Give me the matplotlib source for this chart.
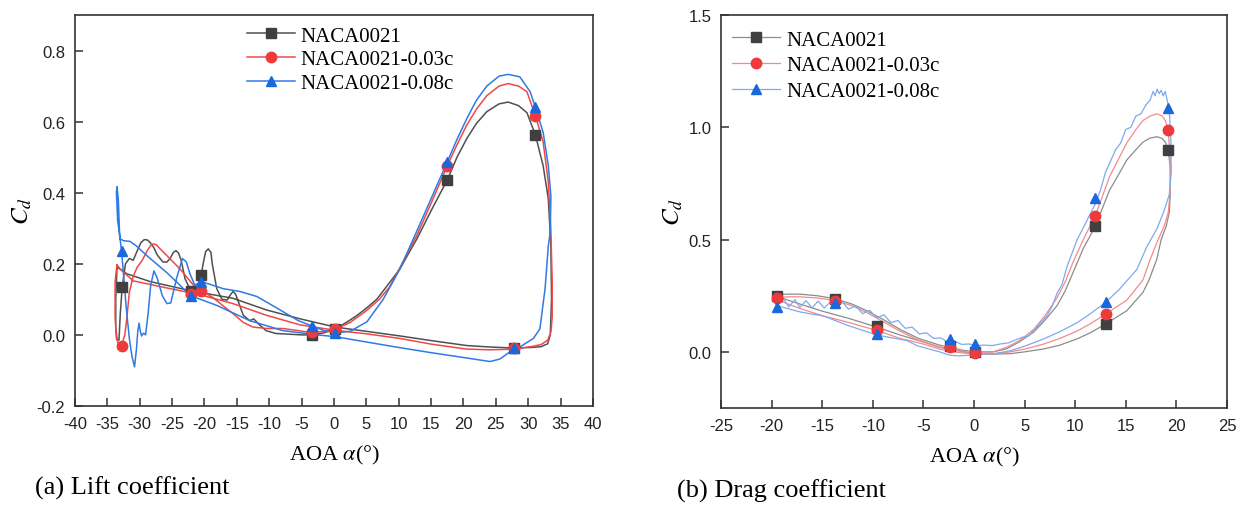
import matplotlib
matplotlib.use("Agg")
import matplotlib.pyplot as plt

plt.rcParams['font.family'] = ['Liberation Serif', 'DejaVu Serif']
plt.rcParams['mathtext.fontset'] = 'stix'
plt.rcParams['axes.unicode_minus'] = False

labels = ['NACA0021', 'NACA0021-0.03c', 'NACA0021-0.08c']

# ---- lift loops (a) ----
lift_aoa_0 = [-33.5, -33.7, -33.7, -33.5, -33.2, -33.0, -32.7, -32.2, -31.6, -31.0, -30.3, -29.8, -29.3,
              -28.8, -28.4, -27.8, -27.3, -26.4, -25.8, -25.3, -24.8, -24.4, -24.0, -23.6, -23.0, -22.1,
              -21.0, -20.5, -20.1, -19.8, -19.4, -19.0, -18.8, -18.4, -18.1, -17.3, -16.5, -15.9, -15.6,
              -15.2, -14.9, -14.0, -13.0, -12.4, -11.6, -10.5, -9.0, -7.0, -5.0, -3.4, -1.5, 0.2, 2.0,
              3.5, 5.0, 6.6, 8.5, 10.2, 11.7, 12.8, 15.3, 17.5, 19.0, 20.5, 22.0, 23.6, 25.5, 26.9, 28.5,
              29.8, 31.1, 32.3, 33.1, 33.5, 33.6, 33.4, 33.0, 32.0, 30.8, 27.8, 24.0, 20.5, 15.0, 10.2,
              5.0, 0.2, -5.2, -10.4, -15.6, -22.1, -28.4, -32.0, -33.0, -33.5]
lift_cl_0 = [0.19, 0.10, 0.02, -0.012, -0.015, 0.06, 0.135, 0.2, 0.215, 0.21, 0.24, 0.26, 0.268,
             0.267, 0.26, 0.245, 0.225, 0.205, 0.205, 0.215, 0.232, 0.237, 0.23, 0.21, 0.158, 0.124,
             0.14, 0.17, 0.21, 0.235, 0.242, 0.232, 0.2, 0.16, 0.13, 0.1, 0.098, 0.115, 0.122,
             0.115, 0.1, 0.055, 0.04, 0.045, 0.03, 0.012, 0.004, 0.002, 0.0, 0.0, 0.006, 0.017, 0.036,
             0.054, 0.075, 0.10, 0.145, 0.186, 0.235, 0.27, 0.36, 0.436, 0.5, 0.552, 0.595, 0.628, 0.65,
             0.655, 0.645, 0.625, 0.563, 0.476, 0.383, 0.25, 0.1, 0.0, -0.025, -0.033, -0.035, -0.037,
             -0.034, -0.03, -0.016, -0.003, 0.01, 0.022, 0.045, 0.07, 0.103, 0.124, 0.15, 0.172, 0.185, 0.19]

lift_aoa_1 = [-33.5, -33.8, -33.8, -33.6, -33.2, -32.8, -32.3, -32.0, -31.6, -31.0, -30.4, -29.6, -28.9,
              -28.3, -27.9, -27.4, -27.0, -25.8, -23.8, -21.7, -20.5, -18.7, -17.0, -15.6, -14.0, -12.5,
              -10.4, -7.9, -5.5, -3.4, -1.5, 0.2, 2.5, 5.0, 7.0, 8.6, 10.5, 12.8, 15.0, 17.5, 19.0, 20.5,
              22.0, 23.6, 25.5, 26.9, 28.5, 29.8, 31.1, 32.3, 33.1, 33.5, 33.7, 33.7, 33.5, 33.0, 32.0,
              30.8, 27.8, 24.0, 20.5, 15.0, 10.2, 5.0, 0.2, -5.2, -10.4, -15.6, -20.7, -25.8, -31.0,
              -33.0, -33.5]
lift_cl_1 = [0.197, 0.15, 0.05, -0.01, -0.03, -0.03, 0.0, 0.045, 0.12, 0.165, 0.19, 0.21, 0.235,
             0.252, 0.256, 0.253, 0.245, 0.223, 0.186, 0.14, 0.125, 0.105, 0.08, 0.06, 0.035, 0.022,
             0.018, 0.018, 0.012, 0.006, 0.01, 0.016, 0.035, 0.068, 0.1, 0.135, 0.2, 0.28, 0.37, 0.476,
             0.535, 0.59, 0.635, 0.673, 0.7, 0.707, 0.7, 0.684, 0.617, 0.543, 0.43, 0.29, 0.15, 0.05,
             0.008, -0.015, -0.027, -0.032, -0.04, -0.042, -0.04, -0.026, -0.01, 0.003, 0.013, 0.028,
             0.055, 0.088, 0.113, 0.132, 0.152, 0.185, 0.197]

lift_aoa_2 = [-33.0, -33.4, -33.6, -33.5, -33.3, -33.1, -32.8, -32.5, -32.1, -31.6, -31.2, -30.8, -30.5,
              -30.3, -30.1, -29.9, -29.7, -29.4, -29.1, -28.7, -28.3, -27.8, -27.3, -26.5, -25.8, -25.2,
              -24.3, -23.4, -22.8, -22.2, -21.5, -20.5, -19.1, -17.1, -14.5, -11.9, -8.3, -5.5, -3.4,
              -1.5, 0.2, 2.5, 5.1, 7.6, 10.2, 12.5, 14.8, 17.5, 19.0, 20.5, 22.0, 23.6, 25.5, 26.9, 28.7,
              30.3, 31.1, 32.3, 33.1, 33.5, 33.4, 33.1, 32.6, 31.8, 30.8, 28.7, 27.8, 25.6, 24.1, 20.5,
              15.0, 10.2, 5.0, 0.2, -2.6, -7.9, -13.0, -18.1, -22.1, -25.8, -28.9, -30.5, -31.5, -32.5,
              -33.0]
lift_cl_2 = [0.27, 0.32, 0.40, 0.417, 0.38, 0.28, 0.235, 0.17, 0.08, -0.01, -0.06, -0.09, -0.04,
             0.01, 0.033, 0.01, -0.003, 0.005, 0.0, 0.06, 0.14, 0.18, 0.16, 0.11, 0.088, 0.09,
             0.16, 0.215, 0.205, 0.17, 0.14, 0.15, 0.142, 0.13, 0.122, 0.108, 0.07, 0.04, 0.025,
             0.012, 0.006, 0.01, 0.037, 0.1, 0.186, 0.28, 0.375, 0.487, 0.55, 0.608, 0.66, 0.70, 0.728,
             0.733, 0.726, 0.684, 0.64, 0.57, 0.476, 0.39, 0.29, 0.25, 0.13, 0.017, -0.01, -0.034,
             -0.04, -0.068, -0.075, -0.065, -0.05, -0.036, -0.02, -0.005, 0.0, 0.012, 0.04, 0.083, 0.11,
             0.175, 0.223, 0.25, 0.263, 0.265, 0.27]

lift_mk_aoa = [-32.7, -22.1, -20.5, -3.4, 0.2, 17.5, 27.8, 31.1]
lift_mk_0 = [0.135, 0.124, 0.169, 0.0, 0.017, 0.436, -0.037, 0.563]
lift_mk_1 = [-0.03, 0.115, 0.124, 0.007, 0.016, 0.476, -0.038, 0.617]
lift_mk_2 = [0.235, 0.11, 0.15, 0.025, 0.006, 0.487, -0.037, 0.64]

# ---- drag loops (b) ----
drag_aoa_0 = [-19.6, -18.5, -17.2, -15.5, -13.7, -12.0, -10.6, -9.0, -7.3, -5.5, -3.4, -2.4, -1.2, 0.1,
              1.9, 3.2, 4.5, 5.9, 7.0, 8.2, 9.0, 9.8, 10.8, 12.0, 13.4, 14.3, 15.1, 16.0, 16.7, 17.4,
              18.1, 18.6, 18.9, 19.2, 19.4, 19.4, 19.3, 19.0, 18.5, 18.05, 17.3, 16.7, 15.1, 13.0, 11.5,
              10.2, 8.5, 6.9, 5.0, 3.6, 2.0, 0.3, -1.7, -3.4, -5.0, -7.3, -9.6, -12.3, -14.9, -17.0,
              -18.5, -19.6]
drag_cd_0 = [0.252, 0.257, 0.257, 0.25, 0.236, 0.212, 0.183, 0.145, 0.1, 0.06, 0.03, 0.02, 0.008, 0.0,
             0.0, 0.013, 0.045, 0.088, 0.14, 0.205, 0.27, 0.354, 0.46, 0.56, 0.72, 0.79, 0.854, 0.9,
             0.934, 0.952, 0.958, 0.95, 0.934, 0.90, 0.82, 0.7, 0.62, 0.56, 0.5, 0.41, 0.32, 0.265,
             0.183, 0.124, 0.085, 0.058, 0.03, 0.013, 0.0, -0.008, -0.01, -0.01, 0.005, 0.02, 0.044,
             0.075, 0.11, 0.148, 0.18, 0.21, 0.232, 0.252]

drag_aoa_1 = [-19.6, -18.5, -17.2, -15.5, -13.7, -12.0, -10.6, -9.0, -7.3, -5.5, -3.4, -2.4, -1.2, 0.1,
              1.9, 3.2, 4.5, 5.9, 7.0, 8.2, 9.0, 9.8, 10.8, 12.0, 13.4, 14.3, 15.1, 16.0, 16.7, 17.4,
              18.1, 18.6, 18.9, 19.2, 19.4, 19.4, 19.2, 18.8, 18.2, 17.4, 16.7, 15.1, 13.0, 11.5, 10.2,
              8.5, 6.9, 5.0, 3.6, 2.0, 0.3, -2.0, -3.4, -5.0, -7.3, -9.6, -12.3, -14.9, -17.0, -18.5,
              -19.6]
drag_cd_1 = [0.24, 0.245, 0.245, 0.24, 0.228, 0.205, 0.175, 0.135, 0.092, 0.052, 0.022, 0.014, 0.003,
             -0.005, 0.0, 0.02, 0.05, 0.1, 0.16, 0.24, 0.31, 0.4, 0.5, 0.607, 0.78, 0.86, 0.93, 0.99,
             1.03, 1.05, 1.06, 1.05, 1.03, 0.99, 0.84, 0.72, 0.62, 0.56, 0.5, 0.41, 0.32, 0.23, 0.168,
             0.125, 0.093, 0.06, 0.035, 0.012, 0.0, -0.008, -0.012, 0.0, 0.012, 0.035, 0.06, 0.095,
             0.13, 0.16, 0.19, 0.215, 0.235]

drag_aoa_2 = [-19.6, -19.2, -18.8, -18.3, -17.7, -17.2, -16.6, -16.0, -15.4, -14.8, -14.2, -13.6, -13.0,
              -12.4, -11.7, -11.0, -10.3, -9.6, -8.9, -8.2, -7.5, -6.8, -6.1, -5.4, -4.7, -4.0, -3.3,
              -2.6, -1.9, -1.2, -0.5, 0.2, 1.0, 1.8, 2.6, 3.4, 4.2, 4.8, 5.4, 6.0, 6.6, 7.2, 7.7, 8.2,
              8.7, 9.2, 9.7, 10.2, 11.0, 12.0, 12.5, 13.0, 13.5, 14.0, 14.5, 15.0, 15.5, 16.0, 16.5,
              17.0, 17.4, 17.7, 17.9, 18.1, 18.3, 18.5, 18.7, 18.9, 19.1, 19.3, 19.45, 19.5, 19.3, 18.8,
              18.1, 17.1, 16.1, 14.4, 13.0, 11.5, 10.2, 8.5, 6.9, 5.0, 3.6, 2.0, 0.3, -1.5, -2.4, -3.4,
              -5.6, -6.6, -9.6, -12.3, -14.9, -16.0, -17.2, -18.2, -19.0, -19.6]
drag_cd_2 = [0.215, 0.225, 0.235, 0.2, 0.232, 0.198, 0.228, 0.196, 0.226, 0.195, 0.222, 0.2, 0.222,
             0.19, 0.205, 0.17, 0.185, 0.15, 0.165, 0.13, 0.14, 0.105, 0.11, 0.08, 0.085, 0.06, 0.062,
             0.045, 0.047, 0.033, 0.035, 0.028, 0.03, 0.028, 0.035, 0.04, 0.055, 0.065, 0.07, 0.1, 0.13,
             0.16, 0.2, 0.26, 0.3, 0.38, 0.44, 0.5, 0.57, 0.66, 0.72, 0.8, 0.85, 0.9, 0.93, 0.99, 1.0,
             1.05, 1.06, 1.1, 1.12, 1.16, 1.14, 1.17, 1.15, 1.165, 1.14, 1.16, 1.12, 1.08, 0.95, 0.8,
             0.7, 0.63, 0.55, 0.47, 0.367, 0.28, 0.22, 0.17, 0.13, 0.09, 0.058, 0.025, 0.005, -0.008,
             -0.013, -0.018, -0.015, 0.0, 0.027, 0.05, 0.075, 0.115, 0.16, 0.168, 0.178, 0.19, 0.2,
             0.21]

drag_mk_aoa = [-19.5, -13.7, -9.6, -2.4, 0.1, 12.0, 19.2, 13.0]
drag_mk_0 = [0.25, 0.235, 0.113, 0.028, 0.0, 0.56, 0.90, 0.124]
drag_mk_1 = [0.238, 0.228, 0.099, 0.02, -0.005, 0.607, 0.99, 0.168]
drag_mk_2 = [0.2, 0.217, 0.08, 0.057, 0.035, 0.686, 1.085, 0.223]

line_dark = ['#505050', '#f04848', '#2f7ae5']
line_light = ['#8c8c8c', '#f58a8a', '#7eaaf0']
mk_colors = ['#404040', '#ee3a3a', '#1a68dc']
mk_shapes = ['s', 'o', '^']

fig = plt.figure(figsize=(12.45, 5.06), dpi=100)
ax1 = fig.add_axes([0.0602, 0.1957, 0.4161, 0.7727])
ax2 = fig.add_axes([0.5791, 0.1917, 0.4064, 0.7767])

lift_aoa = [lift_aoa_0, lift_aoa_1, lift_aoa_2]
lift_cl = [lift_cl_0, lift_cl_1, lift_cl_2]
lift_mk = [lift_mk_0, lift_mk_1, lift_mk_2]
for i in range(3):
    ax1.plot(lift_aoa[i], lift_cl[i], color=line_dark[i], lw=1.1)
for i in range(3):
    ax1.plot(lift_mk_aoa, lift_mk[i], ls='none', marker=mk_shapes[i], color=mk_colors[i], ms=7.5)
    ax1.plot([], [], color=line_dark[i], lw=1.1, marker=mk_shapes[i], mfc=mk_colors[i],
             mec=mk_colors[i], ms=7.5, label=labels[i])

drag_aoa = [drag_aoa_0, drag_aoa_1, drag_aoa_2]
drag_cd = [drag_cd_0, drag_cd_1, drag_cd_2]
drag_mk = [drag_mk_0, drag_mk_1, drag_mk_2]
for i in range(3):
    ax2.plot(drag_aoa[i], drag_cd[i], color=line_light[i], lw=0.9)
for i in range(3):
    ax2.plot(drag_mk_aoa, drag_mk[i], ls='none', marker=mk_shapes[i], color=mk_colors[i], ms=7.5)
    ax2.plot([], [], color=line_light[i], lw=0.9, marker=mk_shapes[i], mfc=mk_colors[i],
             mec=mk_colors[i], ms=7.5, label=labels[i])

ax1.set_xlim(-40, 40)
ax1.set_ylim(-0.2, 0.9)
ax1.set_xticks(range(-40, 41, 5))
ax1.set_yticks([-0.2, 0.0, 0.2, 0.4, 0.6, 0.8])
ax1.set_yticklabels(['-0.2', '0.0', '0.2', '0.4', '0.6', '0.8'])

ax2.set_xlim(-25, 25)
ax2.set_ylim(-0.25, 1.5)
ax2.set_xticks(range(-25, 26, 5))
ax2.set_yticks([0.0, 0.5, 1.0, 1.5])
ax2.set_yticklabels(['0.0', '0.5', '1.0', '1.5'])

for ax in (ax1, ax2):
    for sp in ax.spines.values():
        sp.set_color('#333333')
        sp.set_linewidth(1.2)
    ax.tick_params(direction='in', length=6, width=1.1, color='#333333', pad=7,
                   labelsize=12, top=False, right=False)
    for lab in ax.get_xticklabels() + ax.get_yticklabels():
        lab.set_family('Liberation Sans')
        lab.set_color('#222222')
    ax.set_xlabel(r'AOA $\alpha$(°)', fontsize=16, labelpad=9)
    ax.set_ylabel(r'$C_d$', fontsize=18, labelpad=2)

ax1.legend(loc='upper left', bbox_to_anchor=(0.332, 0.972), frameon=False, fontsize=15,
           handlelength=2.3, handletextpad=0.25, labelspacing=0.2, borderpad=0, borderaxespad=0)
ax2.legend(loc='upper left', bbox_to_anchor=(0.022, 0.962), frameon=False, fontsize=15,
           handlelength=2.3, handletextpad=0.3, labelspacing=0.3, borderpad=0, borderaxespad=0)

fig.text(35 / 1245, 1 - 488 / 506, '(a) Lift coefficient', fontsize=19, va='center', ha='left')
fig.text(677 / 1245, 1 - 491 / 506, '(b) Drag coefficient', fontsize=19, va='center', ha='left')

fig.savefig('out.png', dpi=100)
